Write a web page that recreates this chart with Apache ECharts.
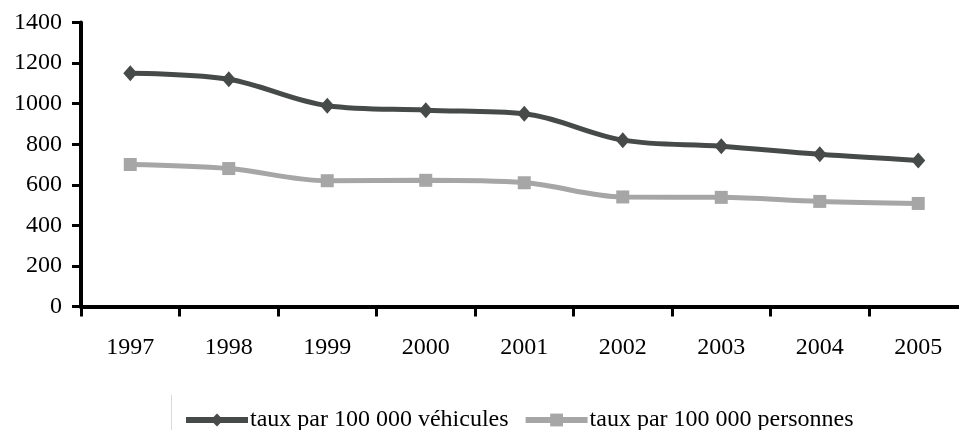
<!DOCTYPE html>
<html>
<head>
<meta charset="utf-8">
<script src="https://cdn.jsdelivr.net/npm/echarts@6/dist/echarts.min.js"></script>
<style>html,body{margin:0;padding:0;background:#fff}#c{width:959px;height:430px}</style>
</head>
<body>
<div id="c"></div>
<script>
var years = ['1997','1998','1999','2000','2001','2002','2003','2004','2005'];
var vehicules = [1150, 1120, 990, 968, 950, 820, 790, 750, 720];
var personnes = [700, 680, 620, 622, 610, 540, 538, 518, 508];
var yTicks = [0, 200, 400, 600, 800, 1000, 1200, 1400];
var seriesNames = ['taux par 100 000 véhicules', 'taux par 100 000 personnes'];

var font = '"Liberation Serif", "Times New Roman", serif';
var chart = echarts.init(document.getElementById('c'), null, {renderer: 'canvas'});
chart.setOption({
  animation: false,
  backgroundColor: '#ffffff',
  grid: {left: 81, width: 886.5, top: 22.5, height: 284, containLabel: false, outerBoundsMode: 'none'},
  xAxis: {
    type: 'category',
    data: years,
    boundaryGap: true,
    axisLine: {lineStyle: {color: '#000', width: 4}},
    axisTick: {show: true, length: 10, lineStyle: {color: '#000', width: 3}},
    axisLabel: {color: '#000', fontFamily: font, fontSize: 24, margin: 29}
  },
  yAxis: {
    type: 'value',
    min: yTicks[0],
    max: yTicks[yTicks.length - 1],
    interval: 200,
    axisLine: {show: true, lineStyle: {color: '#000', width: 4}},
    axisTick: {show: true, length: 9, lineStyle: {color: '#000', width: 3}},
    splitLine: {show: false},
    axisLabel: {color: '#000', fontFamily: font, fontSize: 24, margin: 19,
      formatter: function (v) { return String(v); }}
  },
  legend: {
    left: 178,
    top: 403,
    itemWidth: 62,
    itemHeight: 16,
    itemGap: 14,
    lineStyle: {width: 6},
    textStyle: {color: '#000', fontFamily: font, fontSize: 24, padding: [0, 0, 0, -3]},
    data: seriesNames
  },
  graphic: [{
    type: 'line',
    shape: {x1: 171.5, y1: 395, x2: 171.5, y2: 430},
    style: {stroke: '#d9d9d9', lineWidth: 1}
  }],
  series: [
    {
      name: seriesNames[0],
      type: 'line',
      data: vehicules,
      smooth: 0.35,
      symbol: 'diamond',
      symbolSize: [14, 16],
      color: '#464a48',
      itemStyle: {color: '#464a48'},
      lineStyle: {color: '#464a48', width: 5}
    },
    {
      name: seriesNames[1],
      type: 'line',
      data: personnes,
      smooth: 0.35,
      symbol: 'rect',
      symbolSize: [13, 13],
      color: '#a6a6a6',
      itemStyle: {color: '#a6a6a6'},
      lineStyle: {color: '#a6a6a6', width: 5}
    }
  ]
});
</script>
</body>
</html>
